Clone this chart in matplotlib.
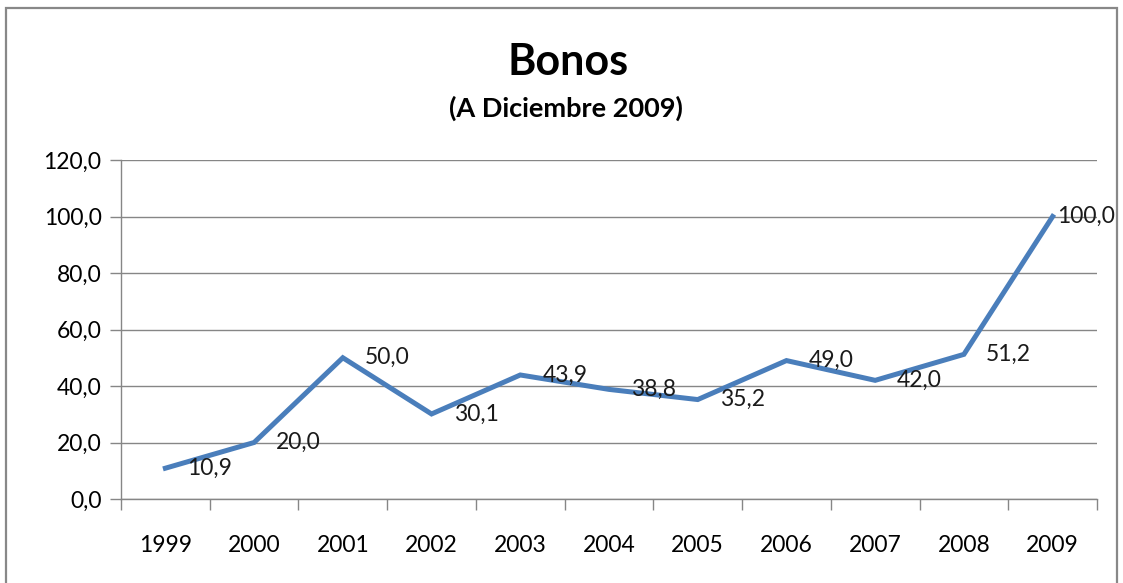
import matplotlib.pyplot as plt
from matplotlib.patches import Rectangle

years = ['1999', '2000', '2001', '2002', '2003', '2004', '2005', '2006', '2007', '2008', '2009']
values = [10.9, 20.0, 50.0, 30.1, 43.9, 38.8, 35.2, 49.0, 42.0, 51.2, 100.0]
yticks = [0, 20, 40, 60, 80, 100, 120]

plt.rcParams['font.family'] = ['Lato', 'DejaVu Sans']

fig = plt.figure(figsize=(11.23, 5.83), dpi=100)
ax = fig.add_axes([121/1123, 1 - 499/583, (1097 - 121)/1123, (499 - 160)/583])

x = list(range(len(years)))
ax.plot(x, values, color='#4A7EBB', lw=3.6, solid_joinstyle='miter', zorder=3)

for i, v in enumerate(values):
    off = 4 if i == len(values) - 1 else 22
    ax.annotate(f'{v:.1f}'.replace('.', ','), (i, v), xytext=(off * 0.72, 0),
                textcoords='offset points', ha='left', va='center',
                fontsize=16.5, color='#1a1a1a', zorder=4)

ax.set_xlim(-0.5, len(years) - 0.5)
ax.set_ylim(0, 120)
ax.set_yticks(yticks)
ax.set_yticklabels([f'{t:.1f}'.replace('.', ',') for t in yticks])
ax.set_xticks(x)
ax.set_xticklabels(years)
ax.set_xticks([i - 0.5 for i in range(len(years) + 1)], minor=True)
ax.tick_params(axis='x', which='major', length=0, pad=26, labelsize=16.5)
ax.tick_params(axis='x', which='minor', length=8, color='#868686', width=1)
ax.tick_params(axis='y', length=8, color='#868686', width=1, pad=6, labelsize=16.5)
ax.grid(axis='y', color='#868686', lw=1)
ax.set_axisbelow(True)
for s in ['top', 'right']:
    ax.spines[s].set_visible(False)
for s in ['left', 'bottom']:
    ax.spines[s].set_color('#868686')
    ax.spines[s].set_linewidth(1)

fig.text(568/1123, 1 - 62/583, 'Bonos', ha='center', va='center', fontsize=31, fontweight='bold')
fig.text(566/1123, 1 - 108/583, '(A Diciembre 2009)', ha='center', va='center', fontsize=19.5, fontweight='bold')

fig.patches.append(Rectangle((6/1123, -0.02), (1117 - 6)/1123, 1.02 - 8/583,
                             transform=fig.transFigure, fill=False, edgecolor='#888888', lw=1.6))

fig.savefig('out.png', dpi=100)
